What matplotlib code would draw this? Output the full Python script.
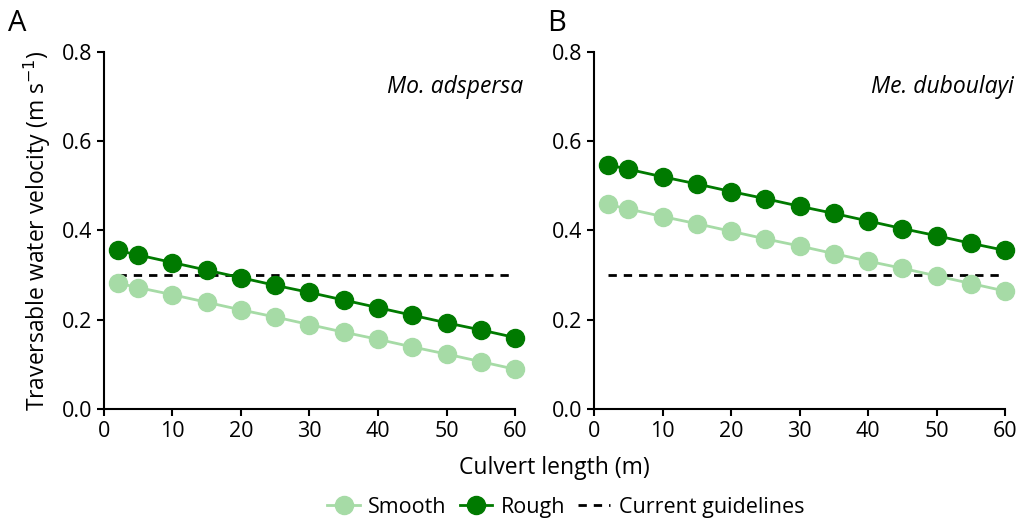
import matplotlib.pyplot as plt
from matplotlib.lines import Line2D

plt.rcParams['font.family'] = ['Open Sans', 'DejaVu Sans']

lengths = [2, 5, 10, 15, 20, 25, 30, 35, 40, 45, 50, 55, 60]

# panel A - Mo. adspersa
smooth_a = [0.282, 0.272, 0.256, 0.239, 0.222, 0.206, 0.189, 0.172, 0.156, 0.139, 0.123, 0.106, 0.089]
rough_a = [0.355, 0.345, 0.328, 0.311, 0.294, 0.277, 0.261, 0.244, 0.227, 0.210, 0.193, 0.177, 0.160]
# panel B - Me. duboulayi
smooth_b = [0.458, 0.448, 0.431, 0.415, 0.398, 0.381, 0.365, 0.348, 0.331, 0.315, 0.298, 0.281, 0.264]
rough_b = [0.547, 0.537, 0.520, 0.504, 0.487, 0.471, 0.454, 0.438, 0.421, 0.404, 0.388, 0.371, 0.355]

guideline = 0.3
species = ['Mo. adspersa', 'Me. duboulayi']

smooth_col = '#a6dba6'
rough_col = '#007a00'

fig = plt.figure(figsize=(10.18, 5.23), dpi=100)
ax_a = fig.add_axes([0.102, 0.218, 0.404, 0.683])
ax_b = fig.add_axes([0.5835, 0.218, 0.404, 0.683])

for ax, sm, ro, sp in zip([ax_a, ax_b], [smooth_a, smooth_b], [rough_a, rough_b], species):
    ax.plot(lengths, sm, '-o', color=smooth_col, lw=2, ms=13, zorder=3)
    ax.plot(lengths, ro, '-o', color=rough_col, lw=2, ms=13, zorder=4)
    ax.plot([lengths[0], lengths[-1]], [guideline, guideline], '--', color='black', lw=2,
            dashes=(3, 2.5), zorder=2)
    ax.set_xlim(0, 60)
    ax.set_ylim(0, 0.8)
    ax.set_xticks(range(0, 61, 10))
    ax.set_yticks([0, 0.2, 0.4, 0.6, 0.8])
    ax.set_yticklabels(['0.0', '0.2', '0.4', '0.6', '0.8'])
    for s in ['top', 'right']:
        ax.spines[s].set_visible(False)
    for s in ['left', 'bottom']:
        ax.spines[s].set_linewidth(1.5)
    ax.tick_params(labelsize=15.5, width=1.5, length=5, direction='out')
    ax.text(1.02, 0.9, sp, transform=ax.transAxes, ha='right', va='center',
            fontsize=16.5, style='italic')
    for m in ax.lines:
        m.set_clip_on(False)

ax_a.set_ylabel('Traversable water velocity (m s$^{-1}$)', fontsize=16.5, labelpad=6)
fig.text(0.008, 0.955, 'A', fontsize=21, va='center')
fig.text(0.537, 0.955, 'B', fontsize=21, va='center')
fig.text(0.545, 0.105, 'Culvert length (m)', fontsize=16.5, ha='center', va='center')

handles = [
    Line2D([], [], color=smooth_col, marker='o', lw=2, ms=13),
    Line2D([], [], color=rough_col, marker='o', lw=2, ms=13),
    Line2D([], [], color='black', ls='--', lw=2, dashes=(3, 2.5)),
]
fig.legend(handles, ['Smooth', 'Rough', 'Current guidelines'], loc='center',
           bbox_to_anchor=(0.556, 0.03), ncol=3, frameon=False, fontsize=15.5,
           handlelength=1.5, handletextpad=0.4, columnspacing=0.6)

fig.savefig('out.png', dpi=100)
